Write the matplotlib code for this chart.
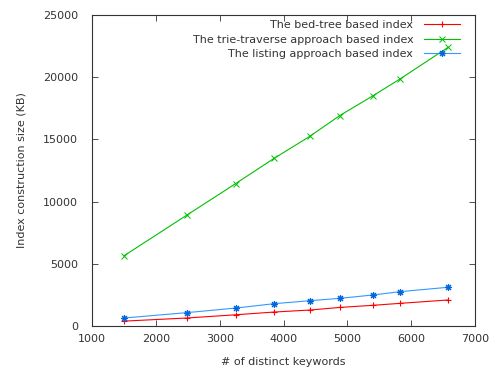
import matplotlib
matplotlib.use("Agg")
import matplotlib.pyplot as plt

# number of distinct keywords
keywords = [1500, 2480, 3250, 3850, 4410, 4880, 5400, 5830, 6580]

# index construction size (KB)
bed_tree = [400, 650, 910, 1130, 1290, 1500, 1670, 1830, 2100]
trie_traverse = [5650, 8900, 11450, 13470, 15240, 16910, 18500, 19870, 22400]
listing = [650, 1080, 1450, 1800, 2040, 2230, 2500, 2770, 3120]

plt.rcParams['font.family'] = ['DejaVu Sans']
plt.rcParams['font.size'] = 8

fig = plt.figure(figsize=(4.98, 3.71), dpi=100)
ax = fig.add_axes([0.185, 0.121, 0.769, 0.839])

ax.plot(keywords, bed_tree, color="#ff0000", lw=0.8, marker="+", ms=5, mew=0.8,
        label="The bed-tree based index")
ax.plot(keywords, trie_traverse, color="#00c000", lw=0.8, marker="x", ms=4, mew=0.7,
        label="The trie-traverse approach based index")
ax.plot(keywords, listing, color="#3399ff", lw=0.8, marker=(8, 2, 0), ms=5, mew=0.8,
        markeredgecolor="#0066dd", label="The listing approach based index")

ax.set_xlim(1000, 7000)
ax.set_ylim(0, 25000)
ax.set_xticks(range(1000, 7001, 1000))
ax.set_yticks(range(0, 25001, 5000))
ax.tick_params(direction="in", top=True, right=True, length=4, width=0.6, colors="#333333")
ax.tick_params(axis="x", pad=6)
ax.tick_params(axis="y", pad=10)
for s in ax.spines.values():
    s.set_linewidth(0.8)
    s.set_color("#333333")

ax.set_xlabel("# of distinct keywords", labelpad=9, color="#333333")
ax.set_ylabel("Index construction size (KB)", labelpad=12, color="#333333")

leg = ax.legend(loc="upper right", frameon=False, markerfirst=False, handlelength=3.2,
                labelspacing=0.4, borderaxespad=0.0, handletextpad=1.0,
                bbox_to_anchor=(0.972, 0.997))
for t in leg.get_texts():
    t.set_color("#333333")

fig.savefig("out.png", dpi=100)
